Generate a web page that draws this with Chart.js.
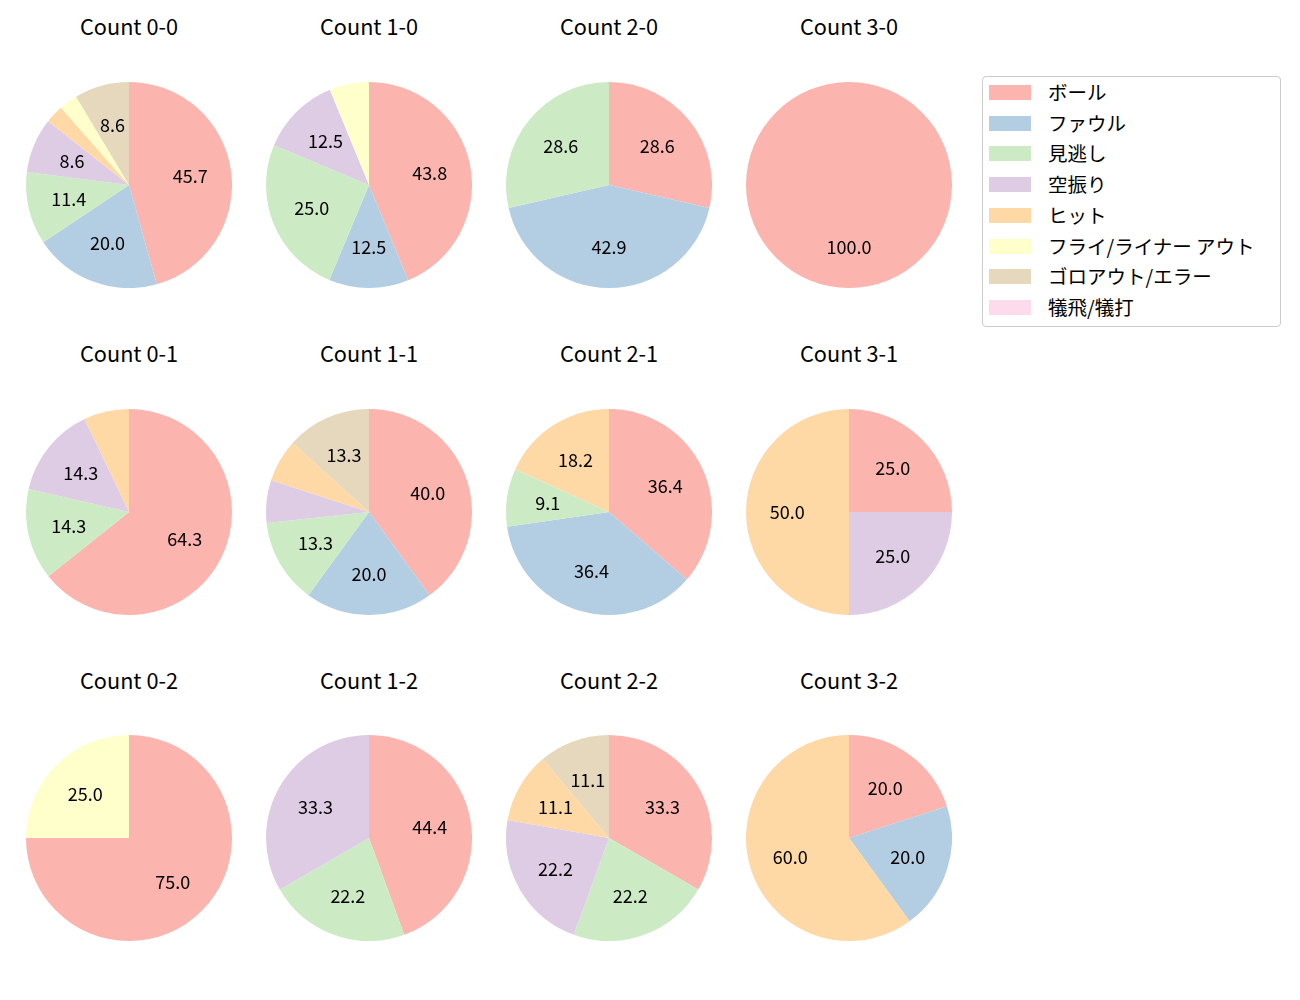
<!DOCTYPE html>
<html><head><meta charset="utf-8">
<script src="https://cdn.jsdelivr.net/npm/chart.js@4"></script>
<style>
body{margin:0;background:#fff;width:1300px;height:1000px;position:relative;overflow:hidden;font-family:"Noto Sans CJK JP","Noto Sans",sans-serif;}
.ttl{position:absolute;width:240px;text-align:center;font-size:21.7px;line-height:24px;color:#000;}
canvas.pie{position:absolute;}
#legend{position:absolute;left:982px;top:76px;width:297px;height:249px;border:1px solid #cccccc;border-radius:4px;background:#fff;}
.li{position:absolute;left:6px;height:20px;}
.li .sw{position:absolute;left:0;top:3px;width:42px;height:15px;}
.li .tx{position:absolute;left:59px;top:-5px;font-size:19.5px;line-height:30px;white-space:nowrap;color:#000;}
</style></head>
<body>
<div id="legend"></div>
<script>
const categories = ["ボール","ファウル","見逃し","空振り","ヒット","フライ/ライナー アウト","ゴロアウト/エラー","犠飛/犠打"];
const colors = ["#fbb4ae","#b3cde3","#ccebc5","#decbe4","#fed9a6","#ffffcc","#e5d8bd","#fddaec"];
const titles = ["Count 0-0","Count 1-0","Count 2-0","Count 3-0",
                "Count 0-1","Count 1-1","Count 2-1","Count 3-1",
                "Count 0-2","Count 1-2","Count 2-2","Count 3-2"];
// percentages per category (same order as categories)
const count00 = [45.7, 20.0, 11.4, 8.6, 2.9, 2.9, 8.6, 0];
const count10 = [43.8, 12.5, 25.0, 12.5, 0, 6.2, 0, 0];
const count20 = [28.6, 42.9, 28.6, 0, 0, 0, 0, 0];
const count30 = [100.0, 0, 0, 0, 0, 0, 0, 0];
const count01 = [64.3, 0, 14.3, 14.3, 7.1, 0, 0, 0];
const count11 = [40.0, 20.0, 13.3, 6.7, 6.7, 0, 13.3, 0];
const count21 = [36.4, 36.4, 9.1, 0, 18.2, 0, 0, 0];
const count31 = [25.0, 0, 0, 25.0, 50.0, 0, 0, 0];
const count02 = [75.0, 0, 0, 0, 0, 25.0, 0, 0];
const count12 = [44.4, 0, 22.2, 33.3, 0, 0, 0, 0];
const count22 = [33.3, 0, 22.2, 22.2, 11.1, 0, 11.1, 0];
const count32 = [20.0, 20.0, 0, 0, 60.0, 0, 0, 0];
const allCounts = [count00,count10,count20,count30,count01,count11,count21,count31,count02,count12,count22,count32];

const colX = [129, 369, 609, 849];
const rowY = [185, 512, 838];
const titleY = [28, 355, 682];
const R = 103;

const pctLabels = {
  id:'pctLabels',
  afterDatasetsDraw(chart){
    const ctx = chart.ctx;
    const ds = chart.data.datasets[0].data;
    const total = ds.reduce((a,b)=>a+b,0);
    const meta = chart.getDatasetMeta(0);
    ctx.save();
    ctx.font = '18px "Noto Sans CJK JP", "Noto Sans", sans-serif';
    ctx.fillStyle = '#000';
    ctx.textAlign = 'center';
    ctx.textBaseline = 'middle';
    meta.data.forEach((arc,i)=>{
      const v = ds[i];
      if(!v) return;
      const pct = v/total*100;
      if(pct < 8) return;
      const p = arc.getProps(['x','y','startAngle','endAngle','outerRadius'], true);
      let mid = (p.startAngle+p.endAngle)/2;
      const r = p.outerRadius*0.6;
      ctx.fillText(pct.toFixed(1), p.x + Math.cos(mid)*r, p.y + Math.sin(mid)*r);
    });
    ctx.restore();
  }
};

allCounts.forEach((vals, k)=>{
  const c = k%4, r = Math.floor(k/4);
  const t = document.createElement('div');
  t.className='ttl';
  t.textContent = titles[k];
  t.style.left = (colX[c]-120)+'px';
  t.style.top = (titleY[r]-14)+'px';
  document.body.appendChild(t);
  const cv = document.createElement('canvas');
  cv.className='pie';
  cv.width = 2*R; cv.height = 2*R;
  cv.style.left = (colX[c]-R)+'px';
  cv.style.top = (rowY[r]-R)+'px';
  document.body.appendChild(cv);
  new Chart(cv, {
    type:'pie',
    data:{labels:categories, datasets:[{data:vals, backgroundColor:colors, borderWidth:0}]},
    options:{responsive:false, animation:false, layout:{padding:0},
      plugins:{legend:{display:false}, tooltip:{enabled:false}}},
    plugins:[pctLabels]
  });
});

const lg = document.getElementById('legend');
categories.forEach((name,i)=>{
  const d = document.createElement('div');
  d.className='li';
  d.style.top = (5 + i*30.7)+'px';
  d.innerHTML = '<div class="sw" style="background:'+colors[i]+'"></div><div class="tx"></div>';
  d.querySelector('.tx').textContent = name;
  lg.appendChild(d);
});
</script>
</body></html>
